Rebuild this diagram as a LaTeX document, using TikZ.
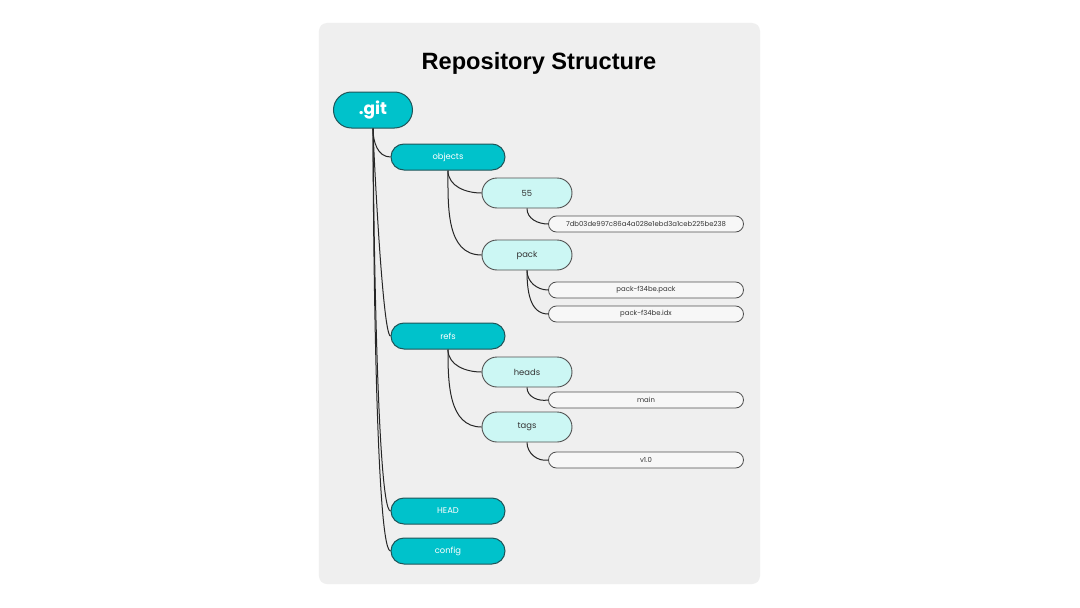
\documentclass[tikz,border=0pt]{standalone}
\usepackage{fontspec}
\setmainfont{Poppins}
\newfontfamily\titlefont{Liberation Sans}
\usepackage{tikz}
\usetikzlibrary{positioning}

\definecolor{tealfill}{HTML}{00C2CB}
\definecolor{tealline}{HTML}{1F5559}
\definecolor{cyanfill}{HTML}{CCF7F4}
\definecolor{greyline}{HTML}{505050}
\definecolor{filefill}{HTML}{F7F7F7}
\definecolor{panelgrey}{HTML}{EFEFEF}
\definecolor{darktext}{HTML}{333333}

\begin{document}
\begin{tikzpicture}[
    rootbox/.style={draw=tealline, fill=tealfill, text=white, line width=1pt,
      minimum width=79pt, minimum height=36pt, rounded corners=18pt, inner sep=0pt,
      font=\fontsize{17}{20}\selectfont\bfseries},
    dirbox/.style={draw=tealline, fill=tealfill, text=white, line width=1pt,
      minimum width=114pt, minimum height=26pt, rounded corners=13pt, inner sep=0pt,
      font=\fontsize{8.4}{10}\selectfont},
    subbox/.style={draw=greyline, fill=cyanfill, text=darktext, line width=0.9pt,
      minimum width=90pt, minimum height=30pt, rounded corners=15pt, inner sep=0pt,
      font=\fontsize{8.4}{10}\selectfont},
    filebox/.style={draw=greyline, fill=filefill, text=darktext, line width=0.8pt,
      minimum width=195pt, minimum height=16pt, rounded corners=8pt, inner sep=0pt,
      font=\fontsize{6.9}{8}\selectfont},
    link/.style={draw=black!85, line width=1pt},
  ]
        \useasboundingbox [fill=white] (-373pt,110pt) rectangle (707pt,-498pt);
        \fill [panelgrey, rounded corners=8pt] (-54pt,87pt) rectangle (387pt,-474pt);

        \node [rootbox] (git) {.git};
        \node [above of=git, node distance=47pt, xshift=166pt,
          font=\titlefont\fontsize{23.6}{28}\selectfont\bfseries] (title) {Repository Structure};

        \node [dirbox, node distance=47pt, below of=git, xshift=75pt] (objects) {objects};
        \node [subbox, node distance=36pt, below of=objects, xshift=79pt] (55) {55};
        \node [filebox, node distance=31pt, below of=55, xshift=119pt] (hash) {7db03de997c86a4a028e1ebd3a1ceb225be238};
        \node [subbox, node distance=98pt, below of=objects, xshift=79pt] (pack) {pack};
        \node [filebox, node distance=35pt, below of=pack, xshift=119pt] (packfile) {pack-f34be.pack};
        \node [filebox, node distance=59pt, below of=pack, xshift=119pt] (idxfile) {pack-f34be.idx};

        \node [dirbox, node distance=226pt, below of=git, xshift=75pt] (refs) {refs};
        \node [subbox, node distance=36pt, below of=refs, xshift=79pt] (heads) {heads};
        \node [filebox, node distance=28pt, below of=heads, xshift=119pt] (main) {main};
        \node [subbox, node distance=91pt, below of=refs, xshift=79pt] (tags) {tags};
        \node [filebox, node distance=33pt, below of=tags, xshift=119pt] (v10) {v1.0};

        \node [dirbox, node distance=401pt, below of=git, xshift=75pt] (HEAD) {HEAD};
        \node [dirbox, node distance=441pt, below of=git, xshift=75pt] (config) {config};

        \draw [link] (git.south) to [out=-90, in=180] (objects.west);
        \draw [link] (git.south) to [out=-90, in=180, looseness=0.1] (refs.west);
        \draw [link] (git.south) to [out=-90, in=180, looseness=0.1] (HEAD.west);
        \draw [link] (git.south) to [out=-90, in=180, looseness=0.1] (config.west);

        \draw [link] (objects.south) to [out=-90, in=180] (55.west);
        \draw [link] (objects.south) to [out=-90, in=180] (pack.west);
        \draw [link] (55.south) to [out=-90, in=180] (hash.west);
        \draw [link] (pack.south) to [out=-90, in=180] (packfile.west);
        \draw [link] (pack.south) to [out=-90, in=180] (idxfile.west);

        \draw [link] (refs.south) to [out=-90, in=180] (heads.west);
        \draw [link] (refs.south) to [out=-90, in=180] (tags.west);
        \draw [link] (heads.south) to [out=-90, in=190] (main.west);
        \draw [link] (tags.south) to [out=-90, in=190] (v10.west);
      \end{tikzpicture}
\end{document}
